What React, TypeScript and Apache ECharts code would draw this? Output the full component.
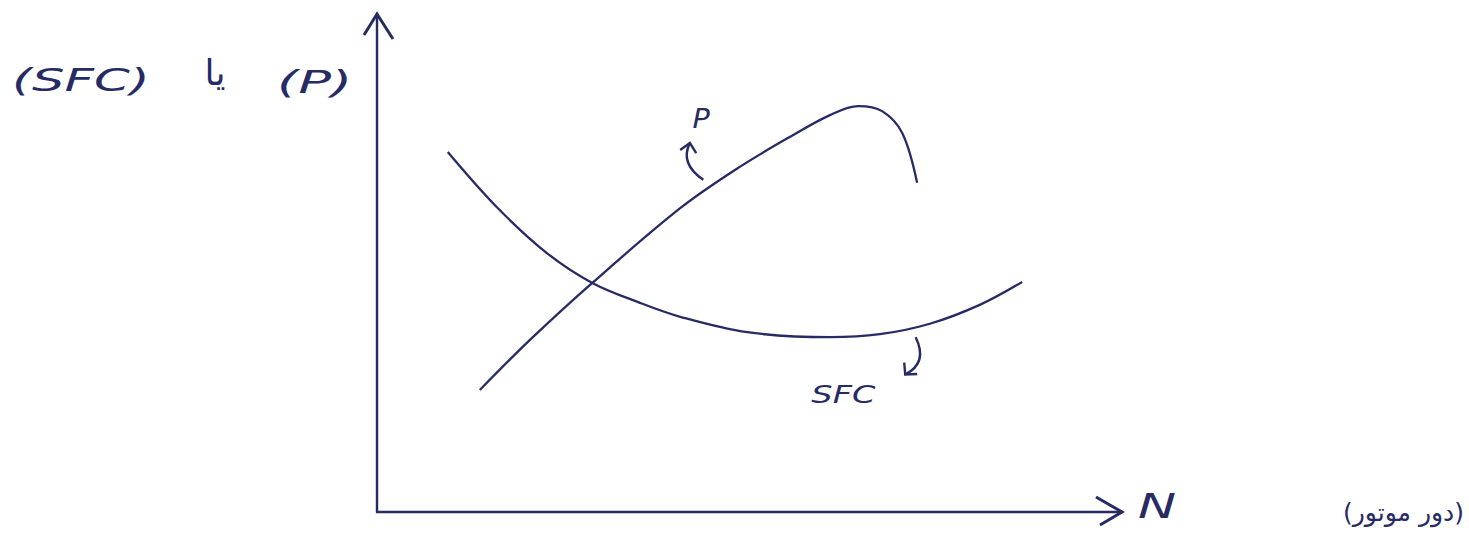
import React, { useEffect, useRef } from "react";
import * as echarts from "echarts";

// Engine speed N (arbitrary units, 0-100) and curve values (arbitrary units, 0-100)
const powerN = [13.8, 20.5, 28.9, 40.7, 48.7, 55.4, 60.8, 64.6, 67.8, 70.5, 72.5];
const powerP = [24.5, 34.5, 46.0, 61.0, 69.3, 75.3, 79.7, 81.5, 80.5, 76.1, 66.1];

const sfcN = [9.5, 16.1, 22.8, 28.9, 35.3, 40.7, 49.7, 60.8, 67.5, 74.2, 80.9, 86.6];
const sfcValues = [72.3, 61.2, 52.0, 46.0, 42.0, 39.2, 36.1, 35.1, 35.7, 37.8, 41.6, 46.2];

const yLabelParts = ["(SFC)", "یا", "(P)"];
const xLabel = "N";
const xLabelFa = "(دور موتور)";
const curveLabels = ["P", "SFC"];

const INK = "#272b63";
const LRM = "\u200E";

export default function App() {
  const ref = useRef<HTMLDivElement>(null);

  useEffect(() => {
    if (!ref.current) return;
    const chart = echarts.init(ref.current, null, { renderer: "svg" });

    const hiddenAxis = {
      type: "value",
      min: 0,
      max: 100,
      axisLine: { show: true, onZero: false, lineStyle: { color: INK, width: 2.4 } },
      axisTick: { show: false },
      axisLabel: { show: false },
      splitLine: { show: false },
    };

    chart.setOption({
      animation: false,
      backgroundColor: "#ffffff",
      grid: { left: 377, right: 347, top: 14, bottom: 21 },
      xAxis: hiddenAxis,
      yAxis: hiddenAxis,
      series: [
        {
          type: "line",
          name: curveLabels[0],
          data: powerN.map((n, i) => [n, powerP[i]]),
          smooth: 0.35,
          symbol: "none",
          lineStyle: { color: INK, width: 2.3 },
        },
        {
          type: "line",
          name: curveLabels[1],
          data: sfcN.map((n, i) => [n, sfcValues[i]]),
          smooth: 0.35,
          symbol: "none",
          lineStyle: { color: INK, width: 2.3 },
        },
      ],
    });

    const px = (x: number, y: number) =>
      chart.convertToPixel({ gridIndex: 0 }, [x, y]) as number[];

    const head = (tip: number[], from: number[], len: number, ang: number) => {
      const a = Math.atan2(from[1] - tip[1], from[0] - tip[0]);
      return [
        [tip[0] + len * Math.cos(a + ang), tip[1] + len * Math.sin(a + ang)],
        tip,
        [tip[0] + len * Math.cos(a - ang), tip[1] + len * Math.sin(a - ang)],
      ];
    };

    const yTip = px(0, 100);
    const xTip = px(100, 0);

    const pStart = px(43.8, 66.7);
    const pCtrl = px(40.6, 70.0);
    const pEnd = px(42.0, 74.1);
    const pText = px(43.5, 79.0);

    const sStart = px(72.3, 35.1);
    const sCtrl = px(74.0, 30.0);
    const sEnd = px(70.9, 27.6);
    const sText = px(62.6, 23.6);

    const stroke = { stroke: INK, lineWidth: 2.4, fill: "none" };
    const font = "DejaVu Sans";

    const txt = (
      text: string,
      x: number,
      y: number,
      size: number,
      align: string,
      opts: Record<string, unknown> = {},
      italic = true
    ) => ({
      type: "text",
      x,
      y,
      ...opts,
      style: {
        text,
        fontFamily: font,
        fontStyle: italic ? "italic" : "normal",
        fontSize: size,
        fill: INK,
        align,
        verticalAlign: "middle",
      },
    });

    chart.setOption({
      graphic: [
        // axis arrowheads
        {
          type: "polyline",
          shape: { points: [[yTip[0] - 13, yTip[1] + 21], yTip, [yTip[0] + 16, yTip[1] + 25]] },
          style: { ...stroke, lineWidth: 3 },
        },
        {
          type: "polyline",
          shape: { points: [[xTip[0] - 26, xTip[1] - 15], xTip, [xTip[0] - 22, xTip[1] + 13]] },
          style: { ...stroke, lineWidth: 3 },
        },
        // P label arrow
        {
          type: "bezierCurve",
          shape: { x1: pStart[0], y1: pStart[1], x2: pEnd[0], y2: pEnd[1], cpx1: pCtrl[0], cpy1: pCtrl[1] },
          style: stroke,
        },
        {
          type: "polyline",
          shape: { points: head(pEnd, [pEnd[0] - 2, pEnd[1] + 10], 12, 0.75) },
          style: stroke,
        },
        // SFC label arrow
        {
          type: "bezierCurve",
          shape: { x1: sStart[0], y1: sStart[1], x2: sEnd[0], y2: sEnd[1], cpx1: sCtrl[0], cpy1: sCtrl[1] },
          style: stroke,
        },
        {
          type: "polyline",
          shape: { points: head(sEnd, [sEnd[0] + 7, sEnd[1] - 8], 12, 0.8) },
          style: stroke,
        },
        // curve labels
        txt(curveLabels[0], pText[0], pText[1], 26, "center", { scaleX: 1.1 }),
        txt(curveLabels[1], sText[0], sText[1], 24, "center", { scaleX: 1.4 }),
        // y axis title
        txt(yLabelParts[0], 12, 80, 32, "left", { scaleX: 1.6 }),
        txt(yLabelParts[1], 215, 72, 36, "center", {}, false),
        txt(yLabelParts[2], 277, 82, 32, "left", { scaleX: 1.7 }),
        // x axis titles
        txt(xLabel, 1138, 506, 34, "left", { scaleX: 1.5 }),
        txt(LRM + xLabelFa + LRM, 1464, 512, 25, "right", {}, false),
      ],
    });

    return () => chart.dispose();
  }, []);

  return (
    <div
      ref={ref}
      style={{ position: "fixed", left: 0, top: 0, width: 1469, height: 533 }}
    />
  );
}
